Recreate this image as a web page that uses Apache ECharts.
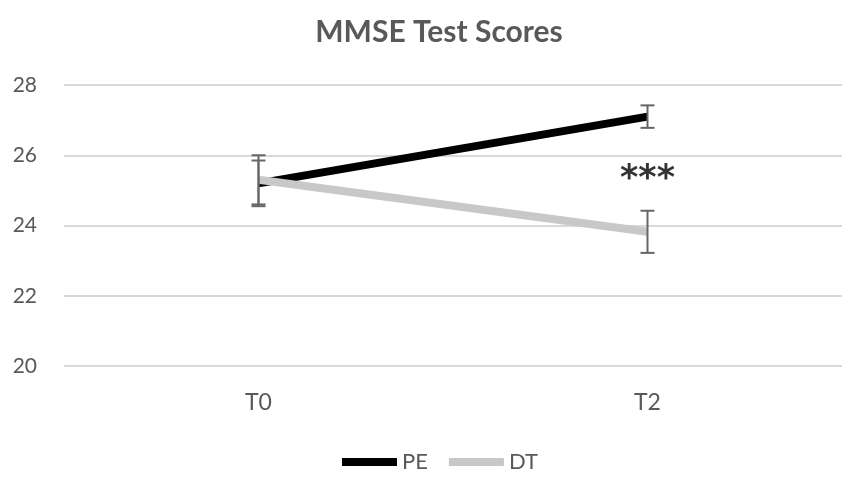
<!DOCTYPE html>
<html>
<head>
<meta charset="utf-8">
<script src="https://cdn.jsdelivr.net/npm/echarts@6/dist/echarts.min.js"></script>
<style>html,body{margin:0;padding:0;background:#fff;}#c{width:851px;height:479px;}</style>
</head>
<body>
<div id="c"></div>
<script>
const categories = ['T0', 'T2'];
const peMean = [25.2, 27.1];
const peErr = [0.65, 0.32];
const dtMean = [25.3, 23.82];
const dtErr = [0.7, 0.6];
const yTicks = [20, 22, 24, 26, 28];
const sigLabel = '***';
const sigPos = ['T2', 25.3];

const FONT = 'Lato';
const chart = echarts.init(document.getElementById('c'));

function errSeries(name, means, errs) {
  return {
    name: name + ' err',
    type: 'custom',
    z: 5,
    silent: true,
    data: categories.map((c, i) => [i, means[i] - errs[i], means[i] + errs[i]]),
    renderItem: function (params, api) {
      const lo = api.coord([api.value(0), api.value(1)]);
      const hi = api.coord([api.value(0), api.value(2)]);
      const w = 7;
      const st = { stroke: '#666666', lineWidth: 2 };
      return {
        type: 'group',
        children: [
          { type: 'line', shape: { x1: lo[0], y1: lo[1], x2: hi[0], y2: hi[1] }, style: st },
          { type: 'line', shape: { x1: lo[0] - w, y1: lo[1], x2: lo[0] + w, y2: lo[1] }, style: st },
          { type: 'line', shape: { x1: hi[0] - w, y1: hi[1], x2: hi[0] + w, y2: hi[1] }, style: st }
        ]
      };
    }
  };
}

chart.setOption({
  animation: false,
  backgroundColor: '#ffffff',
  title: {
    text: 'MMSE Test Scores',
    left: 434, top: 12, textAlign: 'center',
    textStyle: { fontFamily: FONT, fontSize: 30, fontWeight: 'bold', color: '#595959' }
  },
  legend: {
    top: 446, left: 337,
    itemWidth: 55, itemHeight: 8, itemGap: 21,
    data: [{ name: 'PE', icon: 'rect' }, { name: 'DT', icon: 'rect' }],
    textStyle: { fontFamily: FONT, fontSize: 22, color: '#595959' }
  },
  grid: { left: 64, right: 9, top: 85, bottom: 113 },
  xAxis: {
    type: 'category',
    data: categories,
    boundaryGap: true,
    axisLine: { show: false },
    axisTick: { show: false },
    axisLabel: { fontFamily: FONT, fontSize: 23, color: '#595959', margin: 25 }
  },
  yAxis: {
    type: 'value',
    min: yTicks[0], max: yTicks[yTicks.length - 1], interval: 2,
    axisLine: { show: false },
    axisTick: { show: false },
    splitLine: { lineStyle: { color: '#d9d9d9', width: 2 } },
    axisLabel: { fontFamily: FONT, fontSize: 21, color: '#595959', margin: 27 }
  },
  series: [
    {
      name: 'PE', type: 'line', data: peMean, z: 2,
      symbol: 'none', color: '#000000',
      lineStyle: { color: '#000000', width: 8 }
    },
    {
      name: 'DT', type: 'line', data: dtMean, z: 3,
      symbol: 'none', color: '#c8c8c8',
      lineStyle: { color: '#c8c8c8', width: 8 }
    },
    errSeries('PE', peMean, peErr),
    errSeries('DT', dtMean, dtErr),
    {
      name: 'sig', type: 'scatter', symbolSize: 0, z: 6,
      data: [sigPos],
      label: {
        show: true, position: 'inside', formatter: sigLabel,
        fontFamily: 'DejaVu Sans', fontSize: 35, fontWeight: 'bold', color: '#000000'
      }
    }
  ]
});
</script>
</body>
</html>
